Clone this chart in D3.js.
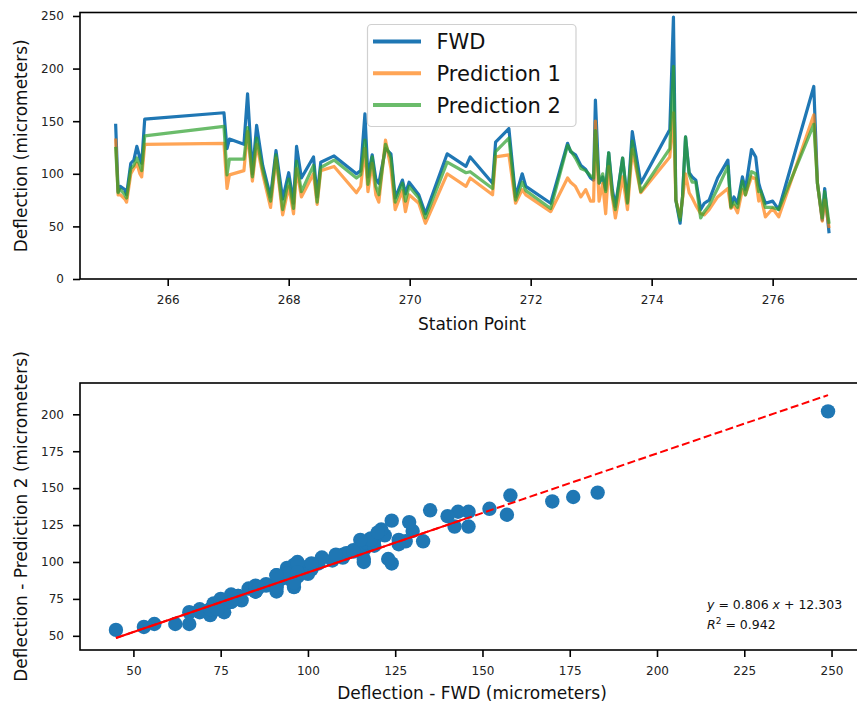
<!DOCTYPE html>
<html>
<head>
<meta charset="utf-8">
<script src="https://cdn.jsdelivr.net/npm/d3@7"></script>
<style>
  html, body { margin: 0; padding: 0; background: #fff; }
  svg { display: block; font-family: "DejaVu Sans", sans-serif; }
</style>
</head>
<body>
<svg id="chart" width="857" height="707"></svg>
<script>
// ---------------- DATA ----------------
const station = [265.14,265.18,265.22,265.29,265.32,265.39,265.44,265.49,265.54,265.57,265.62,266.93,266.98,267.02,267.26,267.32,267.40,267.47,267.57,267.70,267.79,267.90,268.00,268.08,268.13,268.21,268.41,268.47,268.53,268.75,269.12,269.19,269.26,269.31,269.38,269.44,269.49,269.60,269.69,269.76,269.88,269.93,269.99,270.15,270.26,270.62,270.93,271.00,271.37,271.42,271.64,271.75,271.86,271.92,272.33,272.61,272.66,272.74,272.83,272.91,272.99,273.04,273.07,273.13,273.19,273.24,273.29,273.35,273.40,273.52,273.60,273.68,273.82,274.30,274.36,274.40,274.47,274.51,274.56,274.62,274.67,274.73,274.81,274.87,274.95,275.09,275.26,275.31,275.36,275.42,275.50,275.55,275.65,275.72,275.77,275.80,275.88,276.00,276.10,276.68,276.74,276.82,276.86,276.93];
const fwd = [146,83,88,85,80,110,113,126,115,110,152,158,124,133,128,176,100,146,108,78,122,76,101,72,126,96,116,78,111,117,100,103,157,97,118,95,91,124,119,77,94,81,92,80,62,119,107,116,91,130,143,78,100,88,72,129,121,118,108,104,96,94,170,91,97,85,120,85,69,115,73,140,91,142,249,75,53,78,135,101,97,94,66,72,75,96,113,69,78,72,97,85,123,116,91,85,72,74,66,183,91,56,86,45];
const pred1 = [132,80,80,76,73,100,105,110,100,97,128,129,86,99,103,140,93,128,100,68,115,61,88,62,105,78,100,71,103,107,82,88,124,83,110,80,73,132,105,66,84,64,80,72,53,100,88,96,80,116,118,72,85,80,64,96,92,88,78,85,74,74,150,74,91,62,107,78,58,97,66,123,82,116,158,75,59,76,100,82,77,70,62,61,66,78,86,67,70,63,85,80,97,95,74,80,59,67,59,156,91,55,75,50];
const pred2 = [124,82,85,80,77,105,108,115,108,103,136,145,99,114,114,144,97,134,104,74,118,66,95,67,112,83,108,73,106,113,96,99,132,90,116,88,80,128,115,73,91,74,88,77,58,111,101,102,86,121,134,75,92,84,67,127,122,115,105,103,98,96,141,91,100,83,120,80,66,115,72,131,83,124,202,75,56,78,135,99,92,92,58,64,70,86,107,68,73,68,93,80,102,100,83,84,68,68,66,147,91,58,83,54];

const seriesNames = ["FWD", "Prediction 1", "Prediction 2"];
const seriesColors = ["#1f77b4", "#ff7f0e", "#2ca02c"];

const topXTicks = [266, 268, 270, 272, 274, 276];
const topYTicks = [0, 50, 100, 150, 200, 250];
const botXTicks = [50, 75, 100, 125, 150, 175, 200, 225, 250];
const botYTicks = [50, 75, 100, 125, 150, 175, 200];

const fitSlope = 0.806, fitIntercept = 12.303, fitR2 = 0.942;
const solidFitEnd = 145;

// ---------------- LAYOUT ----------------
const svg = d3.select("#chart");
const L = 80, R = 864;
const top1 = 12.5, bot1 = 279;
const top2 = 383, bot2 = 650;
const tickLen = 7;

const x1 = d3.scaleLinear().domain([264.55, 277.51]).range([L, R]);
const y1 = d3.scaleLinear().domain([0, 253.3]).range([bot1, top1]);
const x2 = d3.scaleLinear().domain([34.7, 259.3]).range([L, R]);
const y2 = d3.scaleLinear().domain([40.4, 221.2]).range([bot2, top2]);

function styleAxis(g) {
  g.selectAll(".domain").remove();
  g.selectAll(".tick line").attr("stroke", "#000").attr("stroke-width", 1.6);
  g.selectAll(".tick text").attr("fill", "#222").attr("font-size", 12).attr("font-family", "DejaVu Sans");
}

// ---------- Top chart ----------
const g1 = svg.append("g");
svg.append("clipPath").attr("id", "c1").append("rect")
  .attr("x", L).attr("y", top1).attr("width", R - L).attr("height", bot1 - top1);

const rows = station.map((s, i) => ({ s, v: [fwd[i], pred1[i], pred2[i]] }));
const lineGroup = g1.append("g").attr("clip-path", "url(#c1)");
[0, 1, 2].forEach(k => {
  const line = d3.line().x(d => x1(d.s)).y(d => y1(d.v[k]));
  lineGroup.append("path").datum(rows)
    .attr("d", line)
    .attr("fill", "none")
    .attr("stroke", seriesColors[k])
    .attr("stroke-opacity", k === 0 ? 1 : 0.7)
    .attr("stroke-width", 3.2)
    .attr("stroke-linejoin", "round")
    .attr("stroke-linecap", "square");
});

g1.append("g").attr("transform", `translate(0,${bot1})`)
  .call(d3.axisBottom(x1).tickValues(topXTicks).tickSize(tickLen).tickPadding(9).tickFormat(d3.format("d")))
  .call(styleAxis);
g1.append("g").attr("transform", `translate(${L},0)`)
  .call(d3.axisLeft(y1).tickValues(topYTicks).tickSize(tickLen).tickPadding(9).tickFormat(d3.format("d")))
  .call(styleAxis);

g1.append("rect").attr("x", L).attr("y", top1).attr("width", R - L).attr("height", bot1 - top1)
  .attr("fill", "none").attr("stroke", "#000").attr("stroke-width", 1.6);

// Legend
const leg = g1.append("g");
leg.append("rect").attr("x", 367.5).attr("y", 24.5).attr("width", 208.5).attr("height", 102)
  .attr("rx", 4).attr("fill", "#fff").attr("fill-opacity", 0.85)
  .attr("stroke", "#d0d0d0").attr("stroke-width", 1.2);
seriesNames.forEach((name, k) => {
  const cy = 41.5 + k * 31.7;
  leg.append("line").attr("x1", 373).attr("x2", 421).attr("y1", cy).attr("y2", cy)
    .attr("stroke", seriesColors[k]).attr("stroke-opacity", k === 0 ? 1 : 0.7)
    .attr("stroke-width", 4);
  leg.append("text").attr("x", 436.5).attr("y", cy + 7.8)
    .attr("font-size", 21).attr("fill", "#111").text(name);
});

// Labels
g1.append("text").attr("x", (L + R) / 2).attr("y", 330).attr("text-anchor", "middle")
  .attr("font-size", 17).attr("fill", "#111").text("Station Point");
g1.append("text").attr("transform", `translate(27,${(top1 + bot1) / 2}) rotate(-90)`)
  .attr("text-anchor", "middle").attr("font-size", 17).attr("fill", "#111")
  .text("Deflection (micrometers)");

// ---------- Bottom chart ----------
const g2 = svg.append("g");
svg.append("clipPath").attr("id", "c2").append("rect")
  .attr("x", L).attr("y", top2).attr("width", R - L).attr("height", bot2 - top2);
const plot2 = g2.append("g").attr("clip-path", "url(#c2)");

const pts = fwd.map((f, i) => ({ x: f, y: pred2[i] }));
plot2.selectAll("circle").data(pts).enter().append("circle")
  .attr("cx", d => x2(d.x)).attr("cy", d => y2(d.y)).attr("r", 7.2)
  .attr("fill", "#1f77b4");

const xMin = d3.min(fwd), xMax = d3.max(fwd);
const fit = x => fitSlope * x + fitIntercept;
plot2.append("line")
  .attr("x1", x2(xMin)).attr("y1", y2(fit(xMin)))
  .attr("x2", x2(solidFitEnd)).attr("y2", y2(fit(solidFitEnd)))
  .attr("stroke", "#ff0000").attr("stroke-width", 2);
plot2.append("line")
  .attr("x1", x2(xMin)).attr("y1", y2(fit(xMin)))
  .attr("x2", x2(xMax)).attr("y2", y2(fit(xMax)))
  .attr("stroke", "#ff0000").attr("stroke-width", 2)
  .attr("stroke-dasharray", "8,3.5");

g2.append("g").attr("transform", `translate(0,${bot2})`)
  .call(d3.axisBottom(x2).tickValues(botXTicks).tickSize(tickLen).tickPadding(9).tickFormat(d3.format("d")))
  .call(styleAxis);
g2.append("g").attr("transform", `translate(${L},0)`)
  .call(d3.axisLeft(y2).tickValues(botYTicks).tickSize(tickLen).tickPadding(9).tickFormat(d3.format("d")))
  .call(styleAxis);

g2.append("rect").attr("x", L).attr("y", top2).attr("width", R - L).attr("height", bot2 - top2)
  .attr("fill", "none").attr("stroke", "#000").attr("stroke-width", 1.6);

// Annotation
const ann = g2.append("g").attr("font-size", 12.5).attr("fill", "#111");
const t1 = ann.append("text").attr("x", 707).attr("y", 609);
t1.append("tspan").attr("font-style", "italic").text("y");
t1.append("tspan").text(" = " + fitSlope.toFixed(3) + " ");
t1.append("tspan").attr("font-style", "italic").text("x");
t1.append("tspan").text(" + " + fitIntercept.toFixed(3));
const t2 = ann.append("text").attr("x", 707).attr("y", 629);
t2.append("tspan").attr("font-style", "italic").text("R");
t2.append("tspan").attr("font-size", 9).attr("dy", -5).text("2");
t2.append("tspan").attr("dy", 5).text(" = " + fitR2.toFixed(3));

// Labels
g2.append("text").attr("x", (L + R) / 2).attr("y", 699).attr("text-anchor", "middle")
  .attr("font-size", 17).attr("fill", "#111").text("Deflection - FWD (micrometers)");
g2.append("text").attr("transform", `translate(27,${(top2 + bot2) / 2}) rotate(-90)`)
  .attr("text-anchor", "middle").attr("font-size", 17).attr("fill", "#111")
  .text("Deflection - Prediction 2 (micrometers)");
</script>
</body>
</html>
